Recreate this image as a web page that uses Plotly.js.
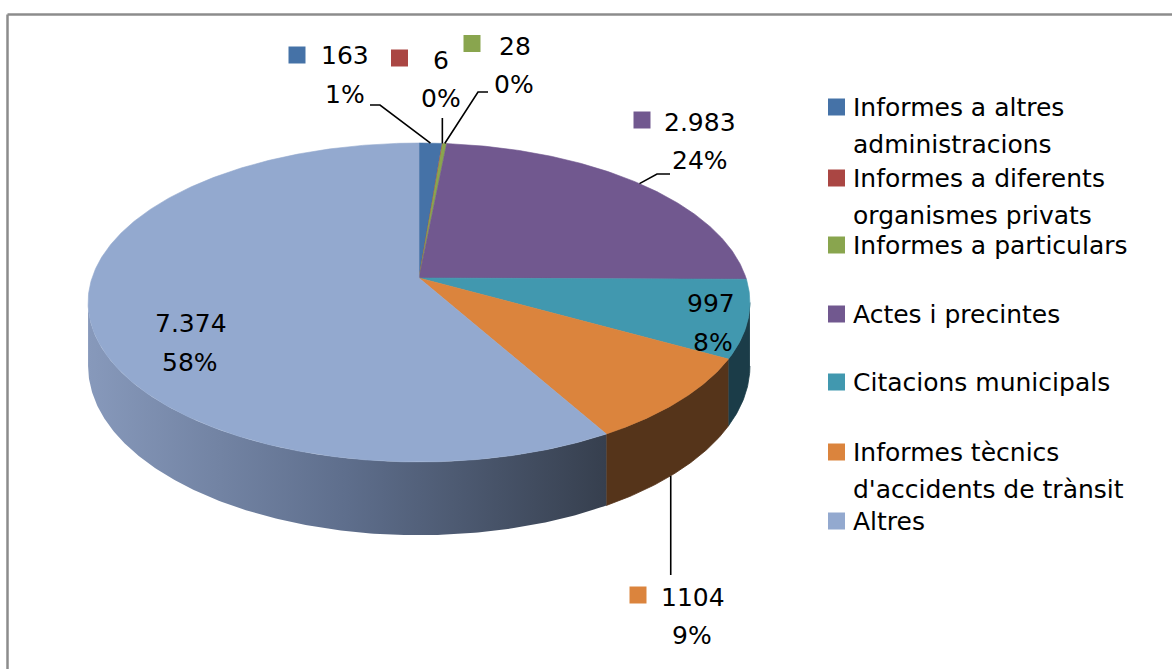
<!DOCTYPE html>
<html>
<head>
<meta charset="utf-8">
<script src="https://cdn.plot.ly/plotly-3.0.1.min.js"></script>
<style>html,body{margin:0;padding:0;background:#fff;}#chart{width:1172px;height:669px;}</style>
</head>
<body>
<div id="chart"></div>
<script>
// ---- data ----
const categories = ['Informes a altres administracions', 'Informes a diferents organismes privats', 'Informes a particulars', 'Actes i precintes', 'Citacions municipals', "Informes tècnics d'accidents de trànsit", 'Altres'];
const legendLabels = ['Informes a altres<br>administracions', 'Informes a diferents<br>organismes privats', 'Informes a particulars', 'Actes i precintes', 'Citacions municipals', "Informes tècnics<br>d'accidents de trànsit", 'Altres'];
const values = [163, 6, 28, 2983, 997, 1104, 7374];
const valueLabels = ['163', '6', '28', '2.983', '997', '1104', '7.374'];

// ---- styles ----
const topColors = ['#4572A7', '#AA4643', '#89A54E', '#71588F', '#4198AF', '#DB843D', '#93A9CF'];
const sideColors = ['#2A4565', '#662A28', '#52632F', '#443556', '#1B3C48', '#55341A', null];
const altresSideScale = [[0, '#8799BB'], [0.5, '#5E6E8C'], [1, '#363F4E']];
const FONT = 'DejaVu Sans, sans-serif';
const FS = 25;

// ---- pie geometry (pixel layout) ----
const CX = 419, CY = 278, RX = 327, RY = 155.7, P = 0.1536, DEPTH = 62;
function proj(deg, down) {
  const t = deg * Math.PI / 180;
  const u = Math.sin(t), v = -Math.cos(t);
  const w = 1 / (1 - P * v);
  return [CX + RX * u * w, CY + RY * v * w + (down ? DEPTH * w : 0)];
}
const SIL = Math.acos(-P) * 180 / Math.PI; // visible side range [SIL, 360-SIL]

const total = values.reduce((a, b) => a + b, 0);
const starts = [], ends = [];
let acc = 0;
values.forEach(v => { starts.push(acc / total * 360); acc += v; ends.push(acc / total * 360); });

function arc(a, b, down) {
  const pts = [];
  const n = Math.max(2, Math.ceil(Math.abs(b - a) / 0.5));
  for (let i = 0; i <= n; i++) pts.push(proj(a + (b - a) * i / n, down));
  return pts;
}

const traces = [];
// side walls
values.forEach((v, i) => {
  const a = Math.max(starts[i], SIL), b = Math.min(ends[i], 360 - SIL);
  if (a >= b) return;
  const pts = arc(a, b, false).concat(arc(b, a, true));
  const xs = pts.map(p => p[0]), ys = pts.map(p => p[1]);
  const tr = {
    type: 'scatter', mode: 'lines', x: xs, y: ys, fill: 'toself',
    hoverinfo: 'skip', showlegend: false,
    line: {width: 0.8, color: sideColors[i] || '#5E6E8C'},
    fillcolor: sideColors[i] || '#5E6E8C'
  };
  if (!sideColors[i]) {
    tr.fillgradient = {type: 'horizontal', colorscale: altresSideScale, start: Math.min(...xs), stop: Math.max(...xs)};
    tr.line = {width: 0};
  }
  traces.push(tr);
});
// top faces
values.forEach((v, i) => {
  const pts = [[CX, CY]].concat(arc(starts[i], ends[i], false));
  pts.push([CX, CY]);
  traces.push({
    type: 'scatter', mode: 'lines', name: categories[i],
    x: pts.map(p => p[0]), y: pts.map(p => p[1]), fill: 'toself',
    fillcolor: topColors[i], line: {width: 0.6, color: topColors[i]},
    hoverinfo: 'skip', showlegend: false
  });
});

// ---- data labels (layout positions) ----
const mid = values.map((v, i) => (starts[i] + ends[i]) / 2);
const pct = values.map(v => Math.round(v / total * 100) + '%');
// [valueX, valueY, pctX, pctY, keyX, keyY]
const labelPos = [
  [345, 55, 345, 94, 297, 55],
  [441, 60, 441, 98, 399.5, 58],
  [515, 46, 514, 84, 472, 43.5],
  [700, 122, 700, 160, 642, 120],
  [711, 303, 713, 342, null, null],
  [693, 597, 692, 635, 638, 595],
  [191, 323, 190, 362, null, null]
];
const annotations = [];
values.forEach((v, i) => {
  const lp = labelPos[i];
  annotations.push({x: lp[0], y: lp[1], text: valueLabels[i], showarrow: false, borderpad: 0, xanchor: 'center', yanchor: 'middle', font: {family: FONT, size: FS, color: '#000'}});
  annotations.push({x: lp[2], y: lp[3], text: pct[i], showarrow: false, borderpad: 0, xanchor: 'center', yanchor: 'middle', font: {family: FONT, size: FS, color: '#000'}});
});
const keyIdx = labelPos.map((p, i) => p[4] != null ? i : -1).filter(i => i >= 0);
traces.push({
  type: 'scatter', mode: 'markers', hoverinfo: 'skip', showlegend: false,
  x: keyIdx.map(i => labelPos[i][4]), y: keyIdx.map(i => labelPos[i][5]),
  marker: {symbol: 'square', size: 17, color: keyIdx.map(i => topColors[i]), line: {width: 0}}
});

// leader lines: label-side points (layout) + pie-side point from slice geometry
const leaderStart = {
  0: [[370, 105], [380, 105]],
  1: [[null, 118]],
  2: [[488, 92], [478, 92]],
  3: [[670, 174], [657, 174]],
  5: [[null, 575]]
};
// point on the bottom edge of a slice's side wall whose x is closest to a given x
function sidePointAtX(i, x) {
  let best = null;
  for (let k = 0; k <= 200; k++) {
    const a = starts[i] + (ends[i] - starts[i]) * k / 200;
    const p = proj(a, true);
    if (!best || Math.abs(p[0] - x) < Math.abs(best[0] - x)) best = p;
  }
  return best;
}
const leader1104X = 671;
Object.keys(leaderStart).forEach(k => {
  const i = +k;
  const end = i === 5 ? sidePointAtX(i, leader1104X) : proj(mid[i], false);
  const pts = leaderStart[k].map(p => [p[0] == null ? end[0] : p[0], p[1]]);
  pts.push(end);
  traces.push({type: 'scatter', mode: 'lines', hoverinfo: 'skip', showlegend: false,
    x: pts.map(p => p[0]), y: pts.map(p => p[1]), line: {color: '#000', width: 1.6}});
});

// ---- legend (drawn manually, Excel-like spacing) ----
const legendKeyX = 836.5, legendTextX = 852;
const legendRowY = [107, 178, 245, 314, 382, 452, 521];
const legendLineGap = 37;
traces.push({
  type: 'scatter', mode: 'markers', hoverinfo: 'skip', showlegend: false,
  x: legendRowY.map(() => legendKeyX), y: legendRowY,
  marker: {symbol: 'square', size: 17, color: topColors, line: {width: 0}}
});
legendLabels.forEach((lab, i) => {
  lab.split('<br>').forEach((line, j) => {
    annotations.push({x: legendTextX, y: legendRowY[i] + j * legendLineGap, text: line, showarrow: false, borderpad: 0,
      xanchor: 'left', yanchor: 'middle', font: {family: FONT, size: FS, color: '#000'}});
  });
});

const layout = {
  width: 1172, height: 669,
  margin: {l: 0, r: 0, t: 0, b: 0},
  paper_bgcolor: '#fff', plot_bgcolor: '#fff',
  showlegend: false,
  xaxis: {range: [0, 1172], visible: false, fixedrange: true},
  yaxis: {range: [669, 0], visible: false, fixedrange: true},
  annotations: annotations,
  shapes: [
    {type: 'line', xref: 'x', yref: 'y', x0: 7.5, y0: 14.5, x1: 1172, y1: 14.5, line: {color: '#8C8C8C', width: 2.5}},
    {type: 'line', xref: 'x', yref: 'y', x0: 7.5, y0: 14.5, x1: 7.5, y1: 669, line: {color: '#8C8C8C', width: 2.5}}
  ]
};
Plotly.newPlot('chart', traces, layout, {staticPlot: true, displayModeBar: false});
</script>
</body>
</html>
